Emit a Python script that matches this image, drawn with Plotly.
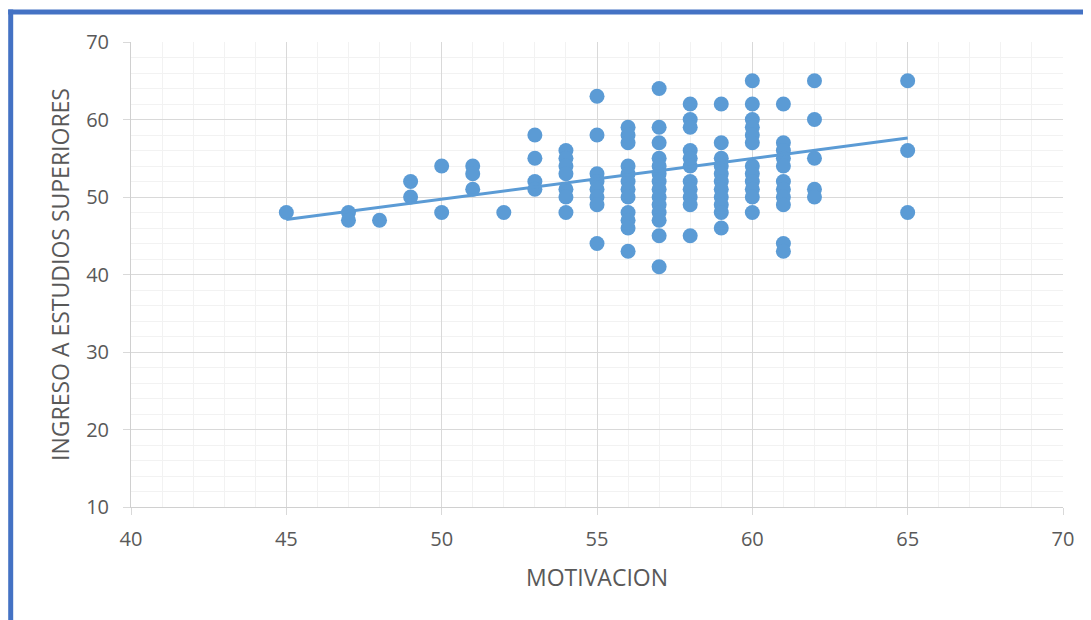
import plotly.graph_objects as go

# Data (MOTIVACION vs INGRESO A ESTUDIOS SUPERIORES)
motivacion_levels = [45, 47, 48, 49, 50, 51, 52, 53, 54, 55, 56, 57, 58, 59, 60, 61, 62, 65]
ingreso_by_level = [
    [48],
    [48, 47],
    [47],
    [52, 50],
    [54, 48],
    [54, 53, 51],
    [48],
    [58, 55, 52, 51],
    [56, 55, 54, 53, 51, 50, 48],
    [63, 58, 53, 52, 51, 50, 49, 44],
    [59, 58, 57, 54, 53, 52, 51, 50, 48, 47, 46, 43],
    [64, 59, 57, 55, 54, 53, 52, 51, 50, 49, 48, 47, 45, 41],
    [62, 60, 59, 56, 55, 54, 52, 51, 50, 49, 45],
    [62, 57, 55, 54, 53, 52, 51, 50, 49, 48, 46],
    [65, 62, 60, 59, 58, 57, 54, 53, 52, 51, 50, 48],
    [62, 57, 56, 55, 54, 52, 51, 50, 49, 44, 43],
    [65, 60, 55, 51, 50],
    [65, 56, 48],
]
trend_x = [45, 65]
trend_y = [47.1, 57.6]

x_vals = []
y_vals = []
for xv, ys in zip(motivacion_levels, ingreso_by_level):
    for yv in ys:
        x_vals.append(xv)
        y_vals.append(yv)

BLUE = "#5B9BD5"
TXT = "#595959"
FONT = "Open Sans"

fig = go.Figure()
fig.add_trace(go.Scatter(x=x_vals, y=y_vals, mode="markers",
                         marker=dict(color=BLUE, size=15, line=dict(width=0)),
                         showlegend=False))
fig.add_trace(go.Scatter(x=trend_x, y=trend_y, mode="lines",
                         line=dict(color=BLUE, width=3), showlegend=False))

# page has an 8px body margin; figure sized so it ends at the window edge
W, H = 1083, 612
L, R, T, B = 123, 28, 34, 113
pw, ph = W - L - R, H - T - B

def px_x(p):
    return (p - L) / pw

def px_y(p):
    return (H - B - p) / ph

fig.update_layout(
    width=W, height=H,
    margin=dict(l=L, r=R, t=T, b=B),
    paper_bgcolor="white", plot_bgcolor="white",
    font=dict(family=FONT, color=TXT),
    xaxis=dict(range=[40, 70], dtick=5, tick0=40,
               showgrid=True, gridcolor="#D9D9D9", gridwidth=1,
               minor=dict(dtick=1, showgrid=True, gridcolor="#F2F2F2", gridwidth=1),
               ticks="outside", ticklen=7, tickcolor="#D9D9D9",
               showline=True, linecolor="#D0D0D0", linewidth=1,
               zeroline=False, ticklabelstandoff=7,
               tickfont=dict(size=20, color=TXT, family=FONT),
               title=dict(text="MOTIVACION", font=dict(size=23, color=TXT, family=FONT), standoff=18)),
    yaxis=dict(range=[10, 70], dtick=10, tick0=10,
               showgrid=True, gridcolor="#D9D9D9", gridwidth=1,
               minor=dict(dtick=2, showgrid=True, gridcolor="#F2F2F2", gridwidth=1),
               ticks="outside", ticklen=7, tickcolor="#D9D9D9",
               showline=True, linecolor="#D0D0D0", linewidth=1,
               zeroline=False, ticklabelstandoff=10,
               tickfont=dict(size=20, color=TXT, family=FONT),
               title=dict(text="INGRESO A ESTUDIOS SUPERIORES", font=dict(size=23, color=TXT, family=FONT), standoff=10)),
    shapes=[
        dict(type="line", xref="paper", yref="paper",
             x0=px_x(2.7), x1=px_x(2.7), y0=px_y(1.5), y1=px_y(H + 10),
             line=dict(color="#4472C4", width=5)),
        dict(type="line", xref="paper", yref="paper",
             x0=px_x(0.2), x1=px_x(W + 10), y0=px_y(4), y1=px_y(4),
             line=dict(color="#4472C4", width=5)),
    ],
)

fig.write_html("out.html")
